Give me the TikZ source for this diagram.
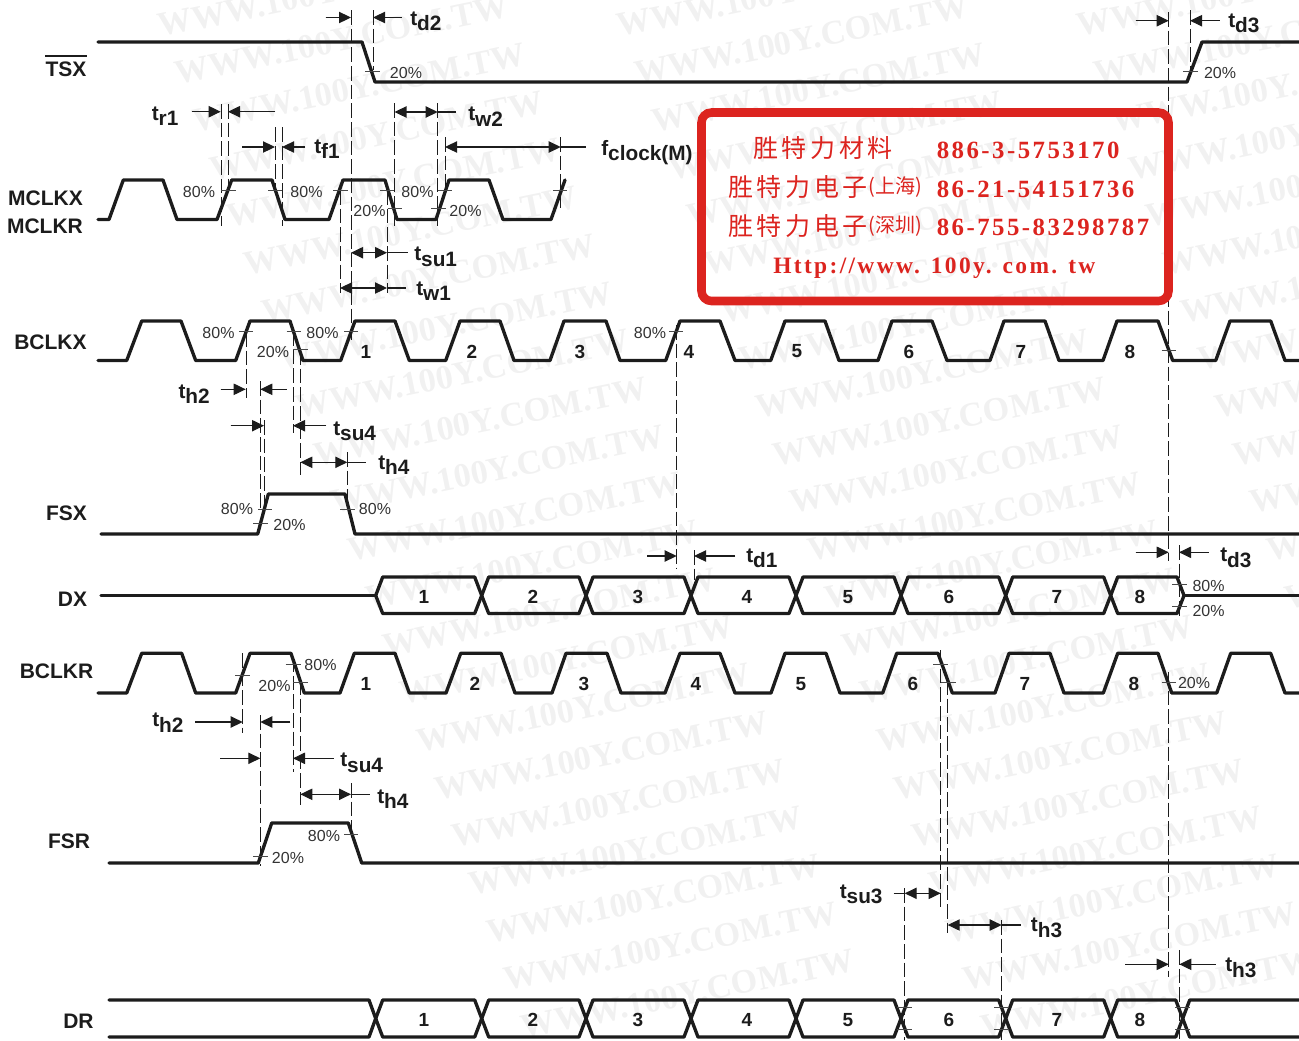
\documentclass[tikz,border=0pt]{standalone}
\usepackage{fontspec}
\usetikzlibrary{arrows.meta}
\setmainfont{Liberation Sans}
\newfontfamily\wmfont{Liberation Serif}
\newfontfamily\cjkw{Noto Sans CJK SC}[LetterSpace=14.5]
\newfontfamily\cjks{Noto Sans CJK SC}
\newfontfamily\redser{Liberation Serif}[LetterSpace=10]
\newfontfamily\redurl{Liberation Serif}[LetterSpace=10]
\definecolor{ink}{HTML}{1C1C1C}
\definecolor{pctc}{HTML}{333333}
\definecolor{wm}{HTML}{F1F1F1}
\definecolor{redb}{HTML}{DC241F}
\newcommand\fz[1]{\fontsize{#1pt}{#1pt}\selectfont}
\newcount\pcn
\newcount\dgn
\tikzset{
  sig/.style={line width=2.5pt,draw=ink,line join=round,line cap=round},
  thin line/.style={line width=0.8pt,draw=ink},
  dashline/.style={line width=0.75pt,draw=ink,dash pattern=on 11pt off 3pt},
  tickl/.style={line width=0.75pt,draw=ink!80},
  headr/.style={-{Triangle[length=9pt,width=8.5pt]},line width=0.8pt,draw=ink,fill=ink},
  headb/.style={{Triangle[length=9pt,width=8.5pt]}-{Triangle[length=9pt,width=8.5pt]},line width=0.8pt,draw=ink,fill=ink},
  siglabel/.style={inner sep=0pt,text=ink,font=\bfseries\fz{15.75}},
  tlabel/.style={inner sep=0pt,anchor=base west,text=ink,font=\bfseries\fz{15.6}},
  pctlabel/.style={inner sep=0pt,text=pctc,font=\fz{12}},
  digit/.style={inner sep=0pt,text=ink,font=\bfseries\fz{14.25}},
  redtxt/.style={inner sep=0pt,anchor=west,text=redb},
  wmark/.style={inner sep=0pt,anchor=base west,rotate=11.5,text=wm,font=\wmfont\bfseries\fz{25.7}},
}
\newcommand\tdash[3]{\draw[dashline] (#1,#2) -- (#1,#3);}
\newcommand\ttick[3]{\draw[tickl] (#1,#3) -- (#2,#3);}
\newcommand\tarr[3]{\draw[headr] (#1,#3) -- (#2,#3);}
\newcommand\tdbl[4]{\draw[headb] (#1,#4) -- (#2,#4);\draw[thin line] (#2,#4) -- (#3,#4);}
\newcommand\tlab[4]{\node[tlabel] (#1) at (#2,#3) {t\raisebox{-4.1pt}{#4}};}
\newcommand\pc[3]{\global\advance\pcn by 1 \node[pctlabel] (pct\the\pcn) at (#1,#2) {#3};}
\newcommand\dg[3]{\global\advance\dgn by 1 \node[digit] (dg\the\dgn) at (#1,#2) {#3};}
\begin{document}
\begin{tikzpicture}[x=0.75pt,y=-0.75pt]
\useasboundingbox (0,0) rectangle (1299,1040);
% watermark lattice
\foreach \i in {0,...,21}{
  \foreach \j in {0,1,2}{
    \node[wmark] (wm\i x\j) at ({160.2+17.3*\i+459.5*\j},{37+47.7*\i}) {WWW.100Y.COM.TW};
  }
}
% signal names
\node[siglabel] (TSX) at (66,69) {TSX};
\draw[line width=2pt,draw=ink] (TSX.west |- 0,56) -- (TSX.east |- 0,56);
\node[siglabel] (MCLKX) at (45.5,198) {MCLKX};
\node[siglabel] (MCLKR) at (45,226) {MCLKR};
\node[siglabel] (BCLKX) at (50.5,342) {BCLKX};
\node[siglabel] (FSX) at (66.5,513) {FSX};
\node[siglabel] (DX) at (72.5,599) {DX};
\node[siglabel] (BCLKR) at (56.5,671) {BCLKR};
\node[siglabel] (FSR) at (69,841) {FSR};
\node[siglabel] (DR) at (78.5,1021) {DR};
% TSX
\draw[sig] (98,42) -- (362,42) -- (375,82) -- (1187,82) -- (1202,42) -- (1300,42);
% MCLK
\draw[sig] (98,219.5) -- (109,219.5) -- (123.3,180) -- (163,180) -- (177,219.5) -- (217,219.5) -- (231.7,180) -- (272,180) -- (285,219.5) -- (329,219.5) -- (343,180) -- (385,180) -- (397,219.5) -- (436,219.5) -- (449,180) -- (489,180) -- (503,219.5) -- (551,219.5) -- (565,180);
% BCLKX
\draw[sig] (98,360.5) -- (126.7,360.5) -- (141.7,321) -- (181,321) -- (195.7,360.5) -- (235.7,360.5) -- (250,321) -- (290,321) -- (303,360.5) -- (340.7,360.5) -- (355,321) -- (395,321) -- (409.3,360.5) -- (445.7,360.5) -- (460,321) -- (500,321) -- (514,360.5) -- (550,360.5) -- (564,321) -- (606,321) -- (620,360.5) -- (665.7,360.5) -- (680,321) -- (720,321) -- (735,360.5) -- (770.7,360.5) -- (785,321) -- (825,321) -- (839,360.5) -- (878,360.5) -- (892,321) -- (932,321) -- (947,360.5) -- (990,360.5) -- (1004,321) -- (1045,321) -- (1059,360.5) -- (1103,360.5) -- (1117,321) -- (1158,321) -- (1172.7,360.5) -- (1215.7,360.5) -- (1230,321) -- (1270.7,321) -- (1285,360.5) -- (1300,360.5);
% FSX
\draw[sig] (101,534) -- (257.7,534) -- (268.3,494) -- (345,494) -- (355,534) -- (1300,534);
% DX
\draw[sig] (101,595.5) -- (375.7,595.5);
\foreach \a/\b in {375.7/481.7,481.7/586,586/691,691/796,796/901,901/1005.7,1005.7/1110.7,1110.7/1184}{
  \draw[sig] (\a,595.5) -- ({\a+7},577) -- ({\b-7},577) -- (\b,595.5) -- ({\b-7},613.5) -- ({\a+7},613.5) -- cycle;
}
\draw[sig] (1184,595.5) -- (1300,595.5);
% BCLKR
\draw[sig] (98,693) -- (126.7,693) -- (141.7,653.3) -- (181.7,653.3) -- (195.7,693) -- (235.7,693) -- (250,653.3) -- (291,653.3) -- (304.3,693) -- (340,693) -- (354.3,653.3) -- (395,653.3) -- (409.3,693) -- (446,693) -- (460.7,653.3) -- (501,653.3) -- (515,693) -- (552,693) -- (566,653.3) -- (607,653.3) -- (621,693) -- (665,693) -- (680,653.3) -- (720,653.3) -- (735,693) -- (771,693) -- (785,653.3) -- (826,653.3) -- (840,693) -- (882.7,693) -- (896.7,653.3) -- (938,653.3) -- (952.3,693) -- (995,693) -- (1009,653.3) -- (1050,653.3) -- (1064,693) -- (1103.3,693) -- (1117.7,653.3) -- (1158,653.3) -- (1171.7,693) -- (1216.7,693) -- (1230.7,653.3) -- (1270.7,653.3) -- (1285,693) -- (1300,693);
% FSR
\draw[sig] (109,863) -- (258.3,863) -- (271.7,823) -- (348.3,823) -- (361.7,863) -- (1300,863);
% DR
\draw[sig] (109,1000) -- (369,1000) -- (375.7,1018.5) -- (369,1037) -- (109,1037);
\foreach \a/\b in {375.7/481.7,481.7/586,586/691,691/796,796/901,901/1005.7,1005.7/1110.7,1110.7/1182.7}{
  \draw[sig] (\a,1018.5) -- ({\a+7},1000) -- ({\b-7},1000) -- (\b,1018.5) -- ({\b-7},1037) -- ({\a+7},1037) -- cycle;
}
\draw[sig] (1300,1000) -- (1189.7,1000) -- (1182.7,1018.5) -- (1189.7,1037) -- (1300,1037);
% dashed guides
\tdash{351}{10}{340}\tdash{373}{10}{70}
\tdash{221}{104}{226}\tdash{228}{104}{190}\tdash{275}{127}{190}\tdash{282}{127}{226}
\tdash{394.5}{103}{226}\tdash{437.7}{103}{226}\tdash{445}{137}{190}\tdash{560.7}{137}{208}
\tdash{340}{190}{293}\tdash{387}{190}{293}
\tdash{246}{332}{398}\tdash{260.3}{381}{510}\tdash{264}{420}{505}\tdash{293}{331}{433}\tdash{300}{350}{475}\tdash{347.3}{452}{510}
\tdash{676.7}{325}{568}\tdash{694}{550}{580}
\tdash{1168.7}{12}{561}\tdash{1190}{10}{71}\tdash{1179}{545}{617}
\tdash{242.7}{653}{733}\tdash{260.3}{715}{866}\tdash{293}{657}{772}\tdash{300.3}{680}{805}\tdash{351}{783}{837}
\tdash{940.7}{650}{907}\tdash{947.7}{680}{933}\tdash{904.7}{888}{1040}\tdash{1001.7}{920}{1040}
\tdash{1168.7}{672}{977}\tdash{1179.3}{950}{1040}
% ticks
\ttick{365}{380}{71}\ttick{1183}{1198}{71}
\ttick{221}{235.7}{190.7}\ttick{268}{282}{190.7}\ttick{333}{347.7}{190.7}\ttick{380}{394}{190.7}\ttick{437.7}{452}{190.7}\ttick{553}{567}{190.7}
\ttick{387.7}{401.7}{208}\ttick{431}{446}{208}
\ttick{239}{253}{331.7}\ttick{286.7}{301}{331.7}\ttick{344}{358}{331.7}\ttick{293}{307.7}{349.3}\ttick{669}{683}{331.7}\ttick{1161.7}{1176}{350}
\ttick{258}{271.7}{509}\ttick{253}{268}{523}\ttick{340}{355}{509}
\ttick{1172}{1186.7}{584}\ttick{1172}{1186.7}{606}
\ttick{235}{250}{675}\ttick{285.7}{300.7}{664}\ttick{293}{308.3}{682.3}\ttick{933}{948.3}{664}\ttick{941}{955.7}{682.3}\ttick{1161.7}{1176}{682.3}
\ttick{253.3}{268.3}{856}\ttick{344}{358.3}{834}
\ttick{896.7}{911.7}{1007.7}\ttick{896.7}{911.7}{1029}\ttick{994}{1009}{1007.7}\ttick{994}{1009}{1029}\ttick{1175}{1190}{1007.7}\ttick{1175}{1190}{1029}
% arrows
\tarr{325.6}{351}{17.5}\tarr{401.7}{373}{17.5}
\tarr{1135.7}{1168.7}{20.7}\tarr{1219.7}{1190}{20.7}
\tarr{191.7}{220.7}{111.7}\tarr{275}{228}{111.7}
\tarr{242}{275}{147}\tarr{305}{282}{147}
\tdbl{394.5}{437.7}{455.7}{112}
\tdbl{445}{560.7}{585.7}{147}
\tdbl{351}{387}{408}{252.7}
\tdbl{340}{387}{406}{288}
\tarr{220.7}{245.7}{389.3}\tarr{286.7}{260.3}{389.3}
\tarr{230.7}{264}{425.7}\tarr{326}{293}{425.7}
\tdbl{300.3}{347.3}{366}{462.3}
\tarr{647}{676.7}{556}\tarr{735}{694}{556}
\tarr{1135.7}{1168.7}{552.3}\tarr{1208.7}{1179}{552.3}
\tarr{195}{242.7}{722}\tarr{290}{260.3}{722}
\tarr{220.3}{260.3}{758.3}\tarr{333.7}{293}{758.3}
\tdbl{300.3}{351}{369.7}{794.3}
\draw[headb] (904.7,893.3) -- (940.7,893.3);\draw[thin line] (893.7,893.3) -- (904.7,893.3);
\tdbl{947.7}{1001.7}{1021}{925}
\tarr{1125}{1168.7}{964.3}\tarr{1215.7}{1179.3}{964.3}
% timing labels
\tlab{td2}{410}{25}{d2}
\tlab{td3a}{1228}{27}{d3}
\tlab{tr1}{151.5}{120}{r1}
\tlab{tf1}{314}{153}{f1}
\tlab{tw2}{468}{120.7}{w2}
\node[tlabel] (fclk) at (601,155) {f\raisebox{-4.1pt}{clock(M)}};
\tlab{tsu1}{414}{260.7}{su1}
\tlab{tw1}{416}{295}{w1}
\tlab{th2a}{178.3}{398}{h2}
\tlab{tsu4a}{333}{435}{su4}
\tlab{th4a}{378}{469}{h4}
\tlab{td1}{746}{562}{d1}
\tlab{td3b}{1220}{561.7}{d3}
\tlab{th2b}{152}{726.7}{h2}
\tlab{tsu4b}{340}{766.7}{su4}
\tlab{th4b}{377}{803}{h4}
\tlab{tsu3}{839.5}{898}{su3}
\tlab{th3a}{1030.7}{931.7}{h3}
\tlab{th3b}{1225}{971.7}{h3}
% percent labels
\pc{406}{72.5}{20\%}\pc{1220}{72.5}{20\%}
\pc{199}{191.7}{80\%}\pc{306.5}{191.7}{80\%}\pc{417.5}{191.7}{80\%}\pc{369.5}{211}{20\%}\pc{465.5}{211}{20\%}
\pc{218.5}{333}{80\%}\pc{322.5}{333}{80\%}\pc{273}{352}{20\%}\pc{650}{333}{80\%}
\pc{237}{509}{80\%}\pc{289.5}{524.5}{20\%}\pc{375}{509}{80\%}
\pc{1208.5}{586}{80\%}\pc{1208.5}{610.5}{20\%}
\pc{320.5}{664.5}{80\%}\pc{274.5}{686}{20\%}\pc{1194}{683}{20\%}
\pc{324}{836}{80\%}\pc{288}{858}{20\%}
% digits
\foreach \x/\n in {366/1,472/2,580/3,689/4,797/5,909/6,1021/7,1130/8}{\dg{\x}{351.5}{\n}}
\foreach \x/\n in {424/1,533/2,638/3,747/4,848/5,949/6,1057/7,1140/8}{\dg{\x}{597}{\n}}
\foreach \x/\n in {366/1,475/2,584/3,696/4,801/5,913/6,1025/7,1134/8}{\dg{\x}{684}{\n}}
\foreach \x/\n in {424/1,533/2,638/3,747/4,848/5,949/6,1057/7,1140/8}{\dg{\x}{1020}{\n}}
% red box
\draw[draw=redb,line width=6.4pt,rounded corners=7.5pt] (701.5,112.5) rectangle (1168.5,301);
\node[redtxt,font=\cjkw\fz{18.75}] (r1a) at (753,148) {胜特力材料};
\node[redtxt,font=\redser\bfseries\fz{18.6}] (r1b) at (936.5,150) {886-3-5753170};
\node[redtxt,font=\cjkw\fz{18.75}] (r2a) at (728,187) {胜特力电子};
\node[redtxt,font=\cjks\fz{15}] (r2s) at (868,187.5) {(上海)};
\node[redtxt,font=\redser\bfseries\fz{18.6}] (r2b) at (936.5,189) {86-21-54151736};
\node[redtxt,font=\cjkw\fz{18.75}] (r3a) at (728,226) {胜特力电子};
\node[redtxt,font=\cjks\fz{15}] (r3s) at (868,226.5) {(深圳)};
\node[redtxt,font=\redser\bfseries\fz{18.6}] (r3b) at (936.5,227) {86-755-83298787};
\node[redtxt,font=\redurl\bfseries\fz{17.6}] (r4) at (773,268) {Http://www. 100y. com. tw};
\end{tikzpicture}
\end{document}
